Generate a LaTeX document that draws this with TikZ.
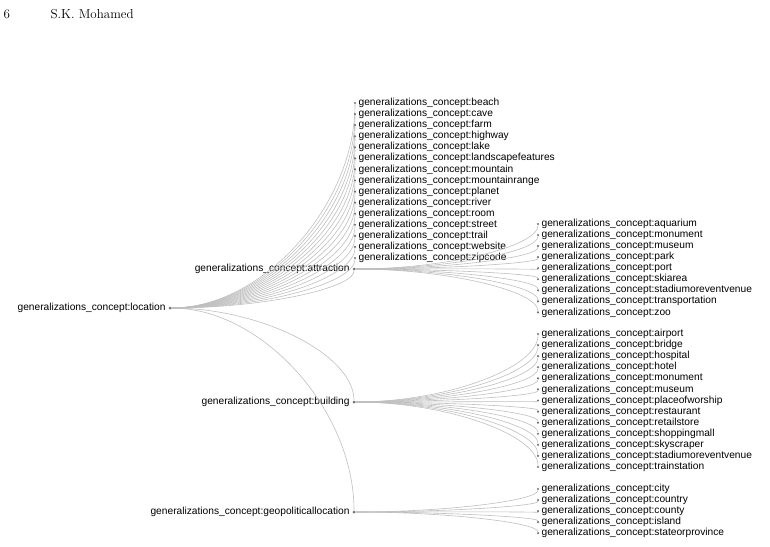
\documentclass[tikz,border=0pt]{standalone}
\usepackage{fontspec}
\setsansfont{Liberation Sans}
\usetikzlibrary{positioning}
\tikzset{
  lbl/.style={font=\sffamily\fontsize{10.2}{11}\selectfont, inner sep=1.5pt},
  link/.style={draw=black!25, line width=0.6pt},
  dot/.style={circle, fill=black!55, inner sep=0pt, minimum size=3pt}
}
\newcommand{\edgeto}[2]{\draw[link] (#1) .. controls ($(#1)!0.5!(#2|-#1)$) and ($(#1-|#2)!0.5!(#2)$) .. (#2);}
\usetikzlibrary{calc}
\begin{document}
\begin{tikzpicture}[x=1pt,y=-1pt]
\useasboundingbox (0,0) rectangle (770,546);
% page header
\node[anchor=west, font=\fontsize{13}{14}\selectfont] (pg) at (0,14) {6};
\node[anchor=west, font=\fontsize{13}{14}\selectfont] (au) at (47,14) {S.K. Mohamed};
% root and inner nodes
\node[dot] (root) at (170,308) {};
\node[lbl, left=1pt of root] {generalizations\_concept:location};
\foreach \name/\y/\txt in {att/269/attraction, bld/402/building, geo/512/geopoliticallocation}{
  \node[dot] (\name) at (354,\y) {};
  \node[lbl, left=1pt of \name] {generalizations\_concept:\txt};
  \edgeto{root}{\name}
}
% leaves of location
\foreach \txt [count=\i] in {beach, cave, farm, highway, lake, landscapefeatures, mountain, mountainrange, planet, river, room, street, trail, website, zipcode}{
  \node[dot, minimum size=2.4pt] (l\i) at (355,{103+(\i-1)*11.07}) {};
  \node[lbl, right=0.5pt of l\i] {generalizations\_concept:\txt};
  \edgeto{root}{l\i}
}
% leaves of attraction
\foreach \txt [count=\i] in {aquarium, monument, museum, park, port, skiarea, stadiumoreventvenue, transportation, zoo}{
  \node[dot, minimum size=2.4pt] (a\i) at (538,{224+(\i-1)*11.05}) {};
  \node[lbl, right=0.5pt of a\i] {generalizations\_concept:\txt};
  \edgeto{att}{a\i}
}
% leaves of building
\foreach \txt [count=\i] in {airport, bridge, hospital, hotel, monument, museum, placeofworship, restaurant, retailstore, shoppingmall, skyscraper, stadiumoreventvenue, trainstation}{
  \node[dot, minimum size=2.4pt] (b\i) at (538,{334+(\i-1)*11.08}) {};
  \node[lbl, right=0.5pt of b\i] {generalizations\_concept:\txt};
  \edgeto{bld}{b\i}
}
% leaves of geopoliticallocation
\foreach \txt [count=\i] in {city, country, county, island, stateorprovince}{
  \node[dot, minimum size=2.4pt] (g\i) at (538,{489+(\i-1)*11.05}) {};
  \node[lbl, right=0.5pt of g\i] {generalizations\_concept:\txt};
  \edgeto{geo}{g\i}
}
\end{tikzpicture}
\end{document}
